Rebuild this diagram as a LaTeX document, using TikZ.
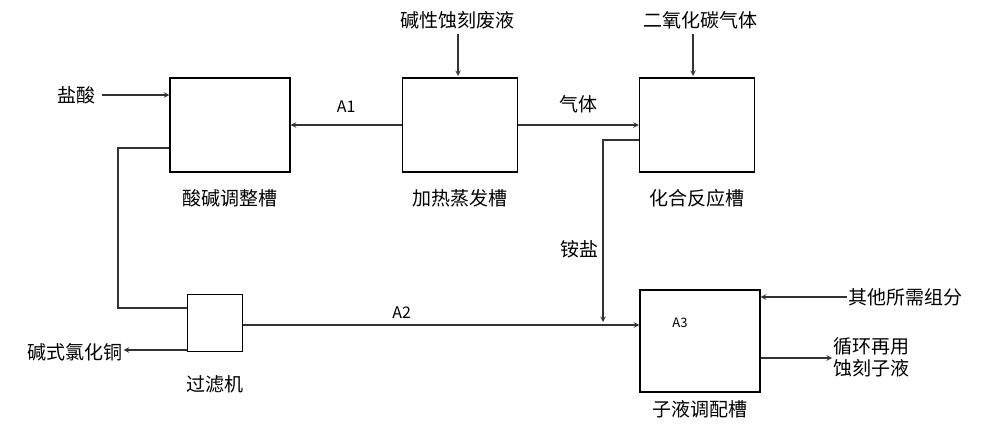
\documentclass[tikz,border=0pt]{standalone}
\usepackage{fontspec}
\setmainfont{Noto Sans CJK SC}
\usetikzlibrary{positioning}
\begin{document}
\begin{tikzpicture}[>=stealth, x=1pt, y=-1pt, font=\fontsize{19}{22}\selectfont,
  tank/.style={draw, line width=1.4pt, inner sep=0pt},
  line/.style={line width=1.4pt, black!80, text=black},
  lbl/.style={inner sep=1pt}]
\useasboundingbox (0,0) rectangle (1000,427);

% tanks
\node[tank, minimum width=120, minimum height=94] (mix) at (230,125) {};
\node[tank, minimum width=115, minimum height=94] (heat) at (460,125) {};
\node[tank, minimum width=115, minimum height=94] (react) at (697,125) {};
\node[tank, minimum width=55, minimum height=57] (filt) at (215,323) {};
\node[tank, minimum width=120, minimum height=102] (sub) at (700,341) {};

\node[lbl] at (230,198) {酸碱调整槽};
\node[lbl] at (460,198) {加热蒸发槽};
\node[lbl] at (697,198) {化合反应槽};
\node[lbl] at (215,384) {过滤机};
\node[lbl] at (700,409) {子液调配槽};
\node[lbl, font=\fontsize{13}{15}\selectfont] at (680,323) {A3};

% inputs and outputs
\node[lbl] (hcl) at (76,95) {盐酸};
\node[lbl] (waste) at (457,20) {碱性蚀刻废液};
\node[lbl] (co2) at (700,20) {二氧化碳气体};
\node[lbl] (cu) at (75,352) {碱式氯化铜};
\node[lbl] (other) at (905,297) {其他所需组分};
\node[lbl, align=left, anchor=west] (rec) at (832,357) {循环再用\\蚀刻子液};

\draw[line, ->] (hcl.east) ++(6,0) coordinate (h0) -- (h0 -| mix.west);
\draw[line, ->] (waste.south -| 458,0) ++(0,4) -- (458,76);
\draw[line, ->] (co2.south -| 693,0) ++(0,4) -- (693,76);
\draw[line, ->] (heat.west) -- node[above=8pt, font=\fontsize{16}{18}\selectfont] {A1} (mix.east);
\draw[line, ->] (heat.east) -- node[above=8pt] {气体} (react.west);
\draw[line] (mix.west |- 0,148) -- (118,148) -- (118,308) -- (filt.west |- 0,308);
\draw[line, ->] (filt.west |- 0,350) -- (cu.east |- 0,350);
\draw[line, ->] (filt.east |- 0,325) -- node[above=2pt, pos=0.4, font=\fontsize{16}{18}\selectfont] {A2} (sub.west |- 0,325);
\draw[line, ->] (react.west |- 0,140) -- (603,140) -- node[left, pos=0.6] {铵盐} (603,322);
\draw[line, ->] (other.west) -- (sub.east |- other.west);
\draw[line, ->] (sub.east |- 0,358) -- (rec.west |- 0,358);
\end{tikzpicture}
\end{document}
